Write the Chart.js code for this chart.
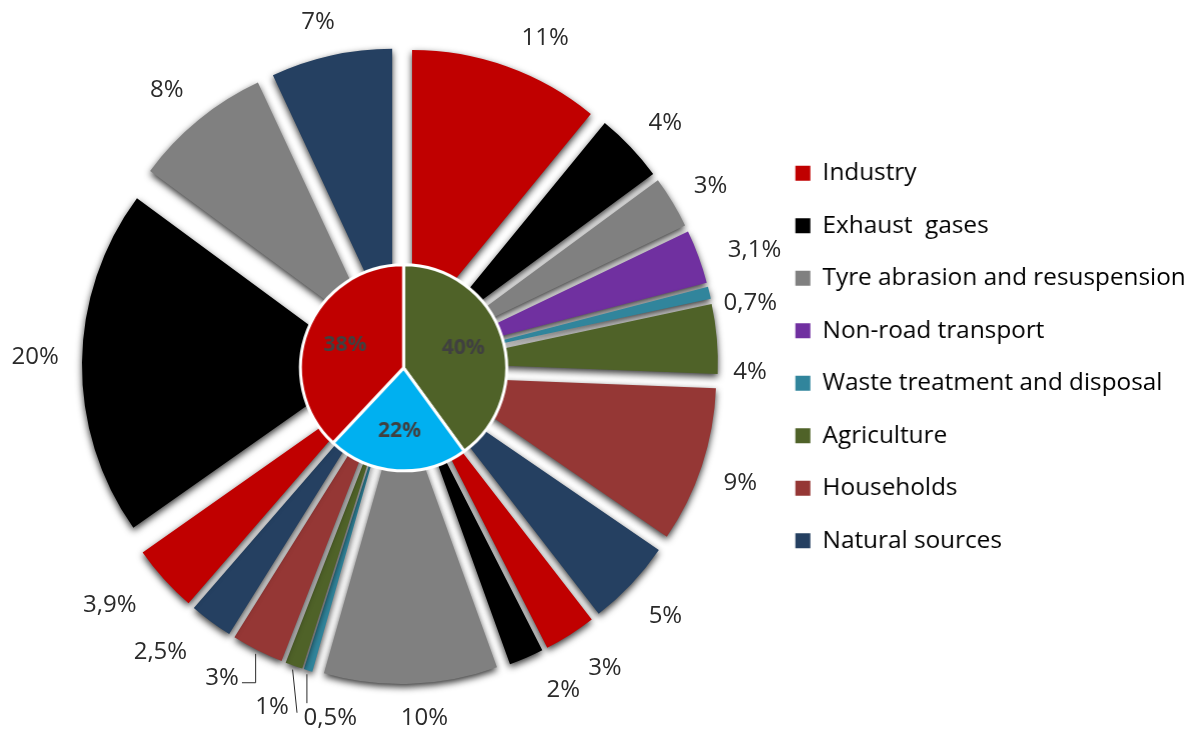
<!DOCTYPE html>
<html>
<head>
<meta charset="utf-8">
<title>Emission sources</title>
<script src="https://cdn.jsdelivr.net/npm/chart.js@4.4.1/dist/chart.umd.min.js"></script>
<style>
  html, body { margin: 0; padding: 0; background: #ffffff; overflow: hidden; }
  #stage { position: relative; width: 1195px; height: 733px; overflow: hidden; }
  #outerBox { position: absolute; left: 0; top: 0; width: 1195px; height: 733px; }
  #innerBox { position: absolute; }
</style>
</head>
<body>
<div id="stage">
  <div id="outerBox"><canvas id="outerPie"></canvas></div>
  <div id="innerBox"><canvas id="innerPie"></canvas></div>
</div>
<script>
// Source categories shown in the legend
const categories = [
  'Industry',
  'Exhaust  gases',
  'Tyre abrasion and resuspension',
  'Non-road transport',
  'Waste treatment and disposal',
  'Agriculture',
  'Households',
  'Natural sources'
];
const categoryColors = ['#C00000', '#000000', '#808080', '#7030A0', '#31859C', '#4F6228', '#953735', '#254061'];

// Outer ring: individual source shares (%), clockwise from 12 o'clock
const sourceShares   = [11, 4, 3, 3.1, 0.7, 4, 9, 5, 3, 2, 10, 0.5, 1, 3, 2.5, 3.9, 20, 8, 7];
// Category of each outer slice (index into categories)
const sourceCategory = [0, 1, 2, 3, 4, 5, 6, 7, 0, 1, 2, 4, 5, 6, 7, 0, 1, 2, 7];

// Inner pie: group totals (%), clockwise from 12 o'clock
const groupShares = [40, 22, 38];
const groupColors = ['#4F6228', '#00B0F0', '#C00000'];

// ---- layout / style settings ----
const FONT = '"Open Sans", "DejaVu Sans", sans-serif';
const OUTER_CENTER = { x: 400, y: 366 };
const INNER_CENTER = { x: 403.5, y: 367.5 };
const OUTER_RADIUS = 282;
const INNER_RADIUS = 103;
const EXPLODE = 36;          // radial pull-out of every outer slice
const LABEL_GAP = 42;        // distance of value labels beyond the slice rim
// per-label angular turn (deg) and extra reach (px) to keep small labels apart
const labelTurn  = [4.2, 1, 0.9, 2, 3.1, 5.9, 0.7, 0, -1.8, -3.3, -2, -5.6, 1.1, 3.1, 3.5, 2.6, 0.8, -0.9, -0.9];
const labelReach = [-1, 0, -1, 13, -4, -10, 0, 5, 5, 3, -7, -1, 4, -1, 13, 16, 5, 1, -7];
// leader lines for the narrow bottom slices
const leaders = [
  { index: 11, dx: -12, dy: -15, mode: 'vertical' },
  { index: 12, dx: 25,  dy: 6,   mode: 'straight' },
  { index: 13, dx: 20,  dy: 5,   mode: 'elbow' }
];

// legend geometry: row pitch, first row centre, width of the longest entry
const LEGEND_ROW = 52.5;
const LEGEND_FIRST_ROW = 173;
const LEGEND_TEXT_W = 363;
const LEGEND_BOX = 15;
const STAGE_W = 1195;

const fmtPct = v => String(v).replace('.', ',') + '%';

// Font size that gives the longest legend entry its intended width
const probe = document.createElement('canvas').getContext('2d');
probe.font = '100px ' + FONT;
const longestW = Math.max(...categories.map(c => probe.measureText(c).width));
const legendSize = 100 * LEGEND_TEXT_W / longestW;
const legendPad = LEGEND_ROW - legendSize;
const legendWidth = legendPad + LEGEND_BOX + legendSize / 2 + LEGEND_TEXT_W + 10;

// Place the inner chart so its pie lands on INNER_CENTER and its legend rows line up
const innerTop = LEGEND_FIRST_ROW - legendPad - legendSize / 2;
const innerLeft = 2 * INNER_CENTER.x - (STAGE_W - legendWidth);
const innerBox = document.getElementById('innerBox');
innerBox.style.top = innerTop + 'px';
innerBox.style.left = innerLeft + 'px';
innerBox.style.width = (STAGE_W - innerLeft) + 'px';
innerBox.style.height = (2 * (INNER_CENTER.y - innerTop)) + 'px';

// Pull each arc outward along its bisector
const explodePlugin = {
  id: 'explodeSlices',
  afterDatasetUpdate(chart, args) {
    const meta = chart.getDatasetMeta(args.index);
    meta.data.forEach(arc => {
      const mid = (arc.startAngle + arc.endAngle) / 2;
      arc.x += Math.cos(mid) * EXPLODE;
      arc.y += Math.sin(mid) * EXPLODE;
    });
  }
};

// Soft drop shadow under the outer slices
const shadowPlugin = {
  id: 'sliceShadow',
  beforeDatasetsDraw(chart) {
    const ctx = chart.ctx;
    ctx.save();
    ctx.shadowColor = 'rgba(0,0,0,0.8)';
    ctx.shadowBlur = 7;
    ctx.shadowOffsetX = 0;
    ctx.shadowOffsetY = 3;
  },
  afterDatasetsDraw(chart) {
    chart.ctx.restore();
  }
};

// Percentage labels around the outer ring
const outerLabels = {
  id: 'outerLabels',
  afterDraw(chart) {
    const ctx = chart.ctx;
    const area = chart.chartArea;
    const cx = (area.left + area.right) / 2;
    const cy = (area.top + area.bottom) / 2;
    const arcs = chart.getDatasetMeta(0).data;
    const pos = [];
    ctx.save();
    ctx.font = '24px ' + FONT;
    ctx.fillStyle = '#2a2a2a';
    ctx.textAlign = 'center';
    ctx.textBaseline = 'middle';
    arcs.forEach((arc, i) => {
      const mid = (arc.startAngle + arc.endAngle) / 2 + labelTurn[i] * Math.PI / 180;
      const r = arc.outerRadius + EXPLODE + LABEL_GAP + labelReach[i];
      const x = cx + Math.cos(mid) * r;
      const y = cy + Math.sin(mid) * r;
      pos.push({ x, y });
      ctx.fillText(fmtPct(sourceShares[i]), x, y);
    });
    ctx.strokeStyle = '#2a2a2a';
    ctx.lineWidth = 1;
    leaders.forEach(l => {
      const arc = arcs[l.index];
      const mid = (arc.startAngle + arc.endAngle) / 2;
      const tipR = arc.outerRadius + EXPLODE + 4;
      const sx = cx + Math.cos(mid) * tipR;
      const sy = cy + Math.sin(mid) * tipR;
      const ex = pos[l.index].x + l.dx;
      const ey = pos[l.index].y + l.dy;
      ctx.beginPath();
      ctx.moveTo(sx, sy);
      if (l.mode === 'vertical') {
        ctx.lineTo(sx, ey);
      } else if (l.mode === 'elbow') {
        ctx.lineTo(sx, ey);
        ctx.lineTo(ex, ey);
      } else {
        ctx.lineTo(ex, ey);
      }
      ctx.stroke();
    });
    ctx.restore();
  }
};

// Percentage labels inside the central pie
const innerLabels = {
  id: 'innerLabels',
  afterDatasetsDraw(chart) {
    const ctx = chart.ctx;
    const arcs = chart.getDatasetMeta(0).data;
    ctx.save();
    ctx.font = 'bold 21px ' + FONT;
    ctx.fillStyle = '#404040';
    ctx.textAlign = 'center';
    ctx.textBaseline = 'middle';
    arcs.forEach((arc, i) => {
      const mid = (arc.startAngle + arc.endAngle) / 2;
      const r = arc.outerRadius * 0.61;
      ctx.fillText(groupShares[i] + '%', arc.x + Math.cos(mid) * r, arc.y + Math.sin(mid) * r);
    });
    ctx.restore();
  }
};

new Chart(document.getElementById('outerPie'), {
  type: 'pie',
  data: {
    labels: sourceCategory.map(c => categories[c]),
    datasets: [{
      data: sourceShares,
      backgroundColor: sourceCategory.map(c => categoryColors[c]),
      borderWidth: 0,
      clip: false
    }]
  },
  options: {
    responsive: true,
    maintainAspectRatio: false,
    animation: false,
    events: [],
    radius: OUTER_RADIUS,
    layout: { padding: { left: 0, right: STAGE_W - 2 * OUTER_CENTER.x, top: 0, bottom: 733 - 2 * OUTER_CENTER.y } },
    plugins: { legend: { display: false }, tooltip: { enabled: false } }
  },
  plugins: [explodePlugin, shadowPlugin, outerLabels]
});

new Chart(document.getElementById('innerPie'), {
  type: 'pie',
  data: {
    labels: groupShares.map(v => v + '%'),
    datasets: [{
      data: groupShares,
      backgroundColor: groupColors,
      borderColor: '#ffffff',
      borderWidth: 3
    }]
  },
  options: {
    responsive: true,
    maintainAspectRatio: false,
    animation: false,
    events: [],
    radius: INNER_RADIUS,
    plugins: {
      tooltip: { enabled: false },
      legend: {
        position: 'right',
        align: 'start',
        onClick: null,
        labels: {
          boxWidth: LEGEND_BOX,
          boxHeight: LEGEND_BOX,
          padding: legendPad,
          color: '#262626',
          font: { family: FONT, size: legendSize },
          generateLabels: () => categories.map((name, i) => ({
            text: name,
            fillStyle: categoryColors[i],
            strokeStyle: categoryColors[i],
            lineWidth: 0,
            hidden: false,
            index: i
          }))
        }
      }
    }
  },
  plugins: [innerLabels]
});
</script>
</body>
</html>
